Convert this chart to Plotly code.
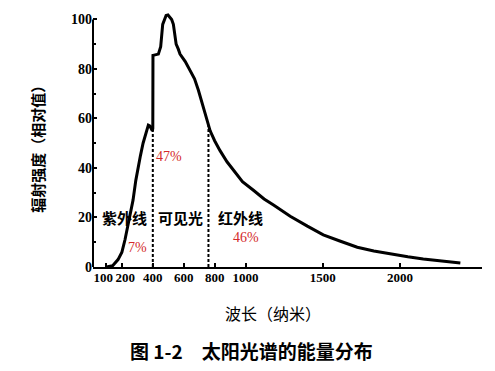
import numpy as np
import plotly.graph_objects as go

# Solar spectrum: wavelength (nm) vs relative radiant intensity
wavelength = [100, 140, 175, 200, 220, 245, 272, 290, 304, 320, 337, 355, 371, 380, 389,
              397, 400, 401, 436, 451, 464, 476, 486, 498, 511, 522, 533, 543, 551, 565,
              576, 610, 641, 670, 695, 720, 738, 771, 800, 835, 880, 922, 980, 1051,
              1120, 1181, 1289, 1400, 1503, 1610, 1723, 1830, 1937, 2050, 2150, 2270, 2390]
intensity = [0, 0.5, 3, 6, 11, 19, 27, 35, 40, 45, 50, 54, 57.3, 57, 56,
             55, 56, 85.5, 86, 89, 98, 100.5, 101.6, 101.8, 101, 100, 98, 94, 90, 88,
             86, 83, 79.4, 76, 71.4, 66, 62, 55, 51, 47, 42.5, 39, 34.5, 31,
             27.5, 25, 20.5, 16.5, 13, 10.5, 8, 6.5, 5.2, 4.1, 3.2, 2.4, 1.6]

band_edges = [400, 760]
band_names = ["紫外线", "可见光", "红外线"]
band_shares = ["7%", "47%", "46%"]

x_tickvals = [100, 200, 400, 600, 800, 1000, 1500, 2000]
x_ticktext = ["100\u2002", "\u2002200", "400", "600", "800", "1000", "1500", "2000"]
y_tickvals = [0, 20, 40, 60, 80, 100]

RED = "#d42a2a"
SERIF = "Liberation Serif"
CJK = "Noto Sans CJK SC"

fig = go.Figure()

fig.add_trace(go.Scatter(x=wavelength, y=intensity, mode="lines",
                         line=dict(color="black", width=3), hoverinfo="skip"))

for e in band_edges:
    top = float(np.interp(e, wavelength, intensity))
    fig.add_trace(go.Scatter(x=[e, e], y=[0, top], mode="lines",
                             line=dict(color="black", width=2, dash="3px,2px")))

# band label positions (x in nm, y in intensity units)
name_pos = [(214, 20), (576, 20), (965, 20)]
share_pos = [(304, 8), (505, 44.5), (1004, 12)]
annotations = []
for (px, py), t in zip(name_pos, band_names):
    annotations.append(dict(x=px, y=py, text=t, showarrow=False,
                            font=dict(family=CJK, size=15, color="black", weight="bold")))
for (px, py), t in zip(share_pos, band_shares):
    annotations.append(dict(x=px, y=py, text=t, showarrow=False,
                            font=dict(family=SERIF, size=14, color=RED)))

annotations.append(dict(x=0, xref="paper", xshift=-55, xanchor="center",
                        y=49, yref="y", yanchor="middle",
                        text="辐射强度（相对值）", textangle=-90, showarrow=False,
                        font=dict(family=CJK, size=15, color="black", weight="bold")))
annotations.append(dict(x=1180, xanchor="center", y=0, yref="paper", yshift=-46,
                        yanchor="middle", text="波长（纳米）", showarrow=False,
                        font=dict(family=CJK, size=16, color="black")))
annotations.append(dict(x=1036, xanchor="center", y=0, yref="paper", yshift=-83,
                        yanchor="middle", text="图 1-2　太阳光谱的能量分布",
                        showarrow=False,
                        font=dict(family=CJK, size=19, color="black", weight="bold")))

fig.update_layout(
    width=495, height=371,
    margin=dict(l=93, r=13, t=12, b=104),
    paper_bgcolor="white", plot_bgcolor="white",
    showlegend=False,
    annotations=annotations,
    shapes=[dict(type="line", xref="paper", yref="y", x0=0, x1=0, y0=0, y1=100,
                 line=dict(color="black", width=2))],
    xaxis=dict(range=[13, 2530], tickmode="array", tickvals=x_tickvals,
               ticktext=x_ticktext, tickangle=0, showgrid=False, zeroline=False,
               showline=True, linecolor="black", linewidth=2,
               ticks="inside", ticklen=4, tickcolor="black", tickwidth=1.5,
               ticklabelstandoff=-3,
               tickfont=dict(family=SERIF, size=13, color="black", weight="bold")),
    yaxis=dict(range=[0, 103], tickmode="array", tickvals=y_tickvals,
               showgrid=False, zeroline=False, showline=False,
               ticks="inside", ticklen=4, tickcolor="black", tickwidth=1.5,
               minor=dict(ticks="inside", ticklen=3, dtick=10, tickcolor="black"),
               tickfont=dict(family=SERIF, size=14, color="black", weight="bold")),
)

fig.write_html("out.html")
